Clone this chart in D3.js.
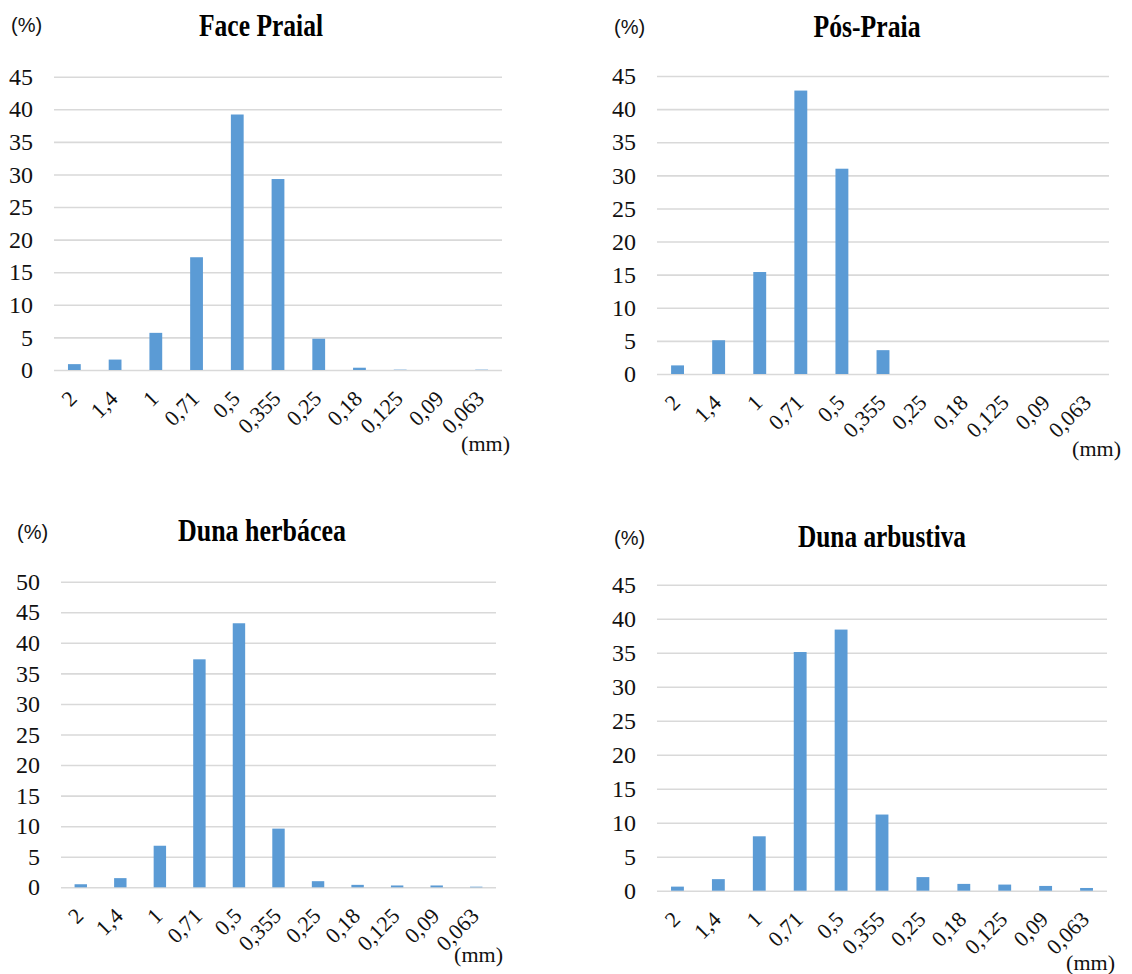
<!DOCTYPE html>
<html>
<head>
<meta charset="utf-8">
<script src="https://cdn.jsdelivr.net/npm/d3@7"></script>
<style>
  html, body { margin: 0; padding: 0; background: #ffffff; }
  svg { display: block; }
</style>
</head>
<body>
<svg id="chart" width="1132" height="974"></svg>
<script>
// ---- data ----
const sizeLabels = ["2", "1,4", "1", "0,71", "0,5", "0,355", "0,25", "0,18", "0,125", "0,09", "0,063"];

const facePraial    = [0.9, 1.6, 5.7, 17.3, 39.2, 29.3, 4.8, 0.35, 0.05, 0.0, 0.05];
const posPraia      = [1.3, 5.1, 15.4, 42.8, 31.0, 3.6, 0.0, 0.0, 0.0, 0.0, 0.0];
const dunaHerbacea  = [0.5, 1.5, 6.8, 37.3, 43.2, 9.6, 1.0, 0.4, 0.3, 0.3, 0.1];
const dunaArbustiva = [0.6, 1.7, 8.0, 35.1, 38.4, 11.2, 2.0, 1.0, 0.9, 0.7, 0.4];

const titles = ["Face Praial", "Pós-Praia", "Duna herbácea", "Duna arbustiva"];
const yMaxes = [45, 45, 50, 45];
const yTickStep = 5;
const yUnitLabel = "(%)";
const xUnitLabel = "(mm)";

// ---- layout (positions only) ----
const panels = [
  { values: facePraial,    left: 54,  right: 502,  top: 76.7,  bottom: 370,   titleX: 261, titleY: 36,  titleW: 124, pctX: 11,  pctY: 32,  mmX: 510,  mmY: 451 },
  { values: posPraia,      left: 657, right: 1109, top: 76,    bottom: 374,   titleX: 867, titleY: 37,  titleW: 107, pctX: 614, pctY: 34,  mmX: 1121, mmY: 456 },
  { values: dunaHerbacea,  left: 61,  right: 496,  top: 581.7, bottom: 887.3, titleX: 262, titleY: 541, titleW: 168, pctX: 17,  pctY: 539, mmX: 503,  mmY: 962 },
  { values: dunaArbustiva, left: 657, right: 1107, top: 584.7, bottom: 890.7, titleX: 882, titleY: 547, titleW: 168, pctX: 614, pctY: 545, mmX: 1115, mmY: 970 }
];

const barColor = "#5b9bd5";
const gridColor = "#d9d9d9";
const serif = "'Liberation Serif', 'Times New Roman', serif";
const sans = "'Liberation Sans', Arial, sans-serif";

const svg = d3.select("#chart");

panels.forEach((p, i) => {
  const g = svg.append("g");
  const yMax = yMaxes[i];

  const x = d3.scaleBand()
    .domain(sizeLabels)
    .range([p.left, p.right])
    .paddingInner(0.686)
    .paddingOuter(0.343);

  const y = d3.scaleLinear()
    .domain([0, yMax])
    .range([p.bottom, p.top]);

  const ticks = d3.range(0, yMax + 0.001, yTickStep);

  // y axis: gridlines + labels
  const yAxis = d3.axisLeft(y)
    .tickValues(ticks)
    .tickSize(-(p.right - p.left))
    .tickPadding(21)
    .tickFormat(d3.format("d"));

  const ya = g.append("g")
    .attr("transform", `translate(${p.left},0)`)
    .attr("font-family", serif)
    .call(yAxis);
  ya.attr("font-family", serif);
  ya.select(".domain").remove();
  ya.selectAll(".tick line")
    .attr("stroke", gridColor)
    .attr("stroke-width", 1.6);
  ya.selectAll(".tick text")
    .style("font-family", serif)
    .style("font-size", "24px")
    .attr("fill", "#111");

  // bars
  g.append("g").selectAll("rect")
    .data(p.values.map((v, k) => ({ label: sizeLabels[k], value: v })))
    .join("rect")
    .attr("x", d => x(d.label))
    .attr("width", x.bandwidth())
    .attr("y", d => y(d.value))
    .attr("height", d => y(0) - y(d.value))
    .attr("fill", barColor);

  // x axis labels (rotated)
  const xAxis = d3.axisBottom(x).tickSize(0).tickPadding(0);
  const xa = g.append("g")
    .attr("transform", `translate(0,${p.bottom})`)
    .call(xAxis);
  xa.attr("font-family", serif);
  xa.select(".domain").remove();
  xa.selectAll(".tick text")
    .style("font-family", serif)
    .style("font-size", "22px")
    .attr("fill", "#111")
    .attr("text-anchor", "end")
    .attr("dy", 0)
    .attr("y", 0)
    .attr("transform", "translate(4,30) rotate(-45)");

  // title
  g.append("text")
    .attr("x", p.titleX)
    .attr("y", p.titleY)
    .attr("text-anchor", "middle")
    .attr("font-family", serif)
    .attr("font-weight", "bold")
    .attr("font-size", 31)
    .attr("textLength", p.titleW)
    .attr("lengthAdjust", "spacingAndGlyphs")
    .attr("fill", "#000")
    .text(titles[i]);

  // (%) unit
  g.append("text")
    .attr("x", p.pctX)
    .attr("y", p.pctY)
    .attr("font-family", sans)
    .attr("font-size", 20)
    .attr("fill", "#111")
    .text(yUnitLabel);

  // (mm) unit
  g.append("text")
    .attr("x", p.mmX)
    .attr("y", p.mmY)
    .attr("text-anchor", "end")
    .attr("font-family", serif)
    .attr("font-size", 22)
    .attr("fill", "#111")
    .text(xUnitLabel);
});
</script>
</body>
</html>
